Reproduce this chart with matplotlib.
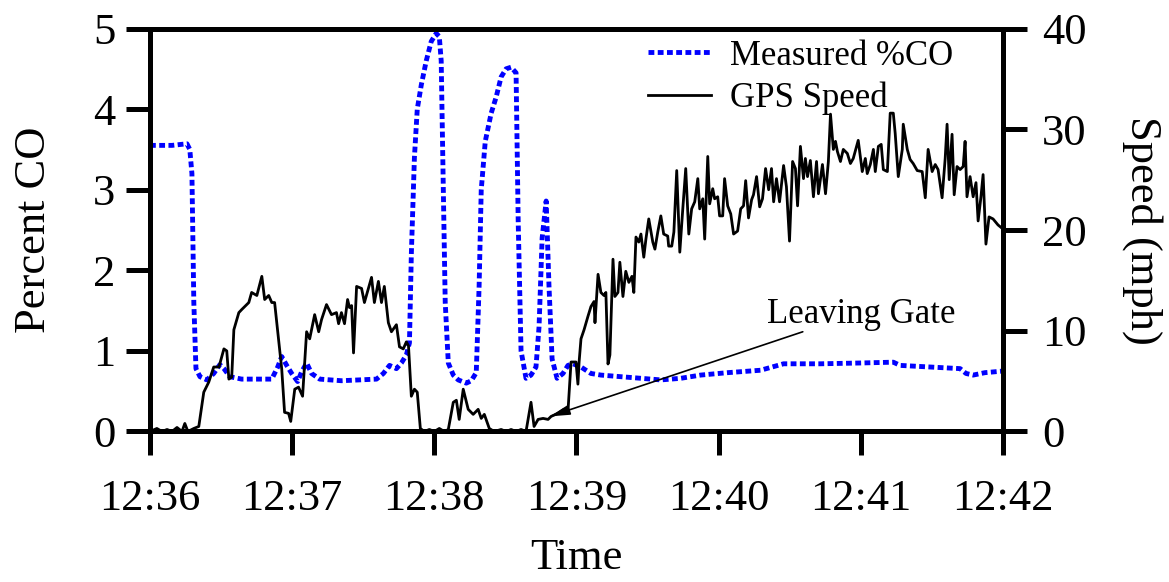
import matplotlib
matplotlib.use("Agg")
import matplotlib.pyplot as plt
from matplotlib.lines import Line2D

plt.rcParams['font.family'] = ['Liberation Serif', 'DejaVu Serif']

# seconds after 12:36:00
co_time = [0.0, 9.3, 15.6, 16.8, 17.7, 18.5, 19.4, 21.1, 24.0, 26.9, 29.5, 31.2, 33.7, 38.7,
           51.4, 53.9, 55.6, 57.7, 59.8, 62.3, 64.0, 66.1, 68.2, 71.6, 80.8, 95.6, 98.5,
           101.1, 104.0, 106.1, 108.2, 109.5, 110.3, 111.6, 112.8, 114.5, 116.6, 118.7,
           120.8, 122.1, 122.9, 123.8, 124.6, 125.9, 128.0, 130.1, 133.5, 135.6, 137.7,
           138.9, 139.8, 141.5, 144.0, 146.1, 148.2, 150.3, 152.4, 154.5, 155.4, 156.6,
           158.7, 160.8, 162.9, 164.2, 165.5, 167.2, 168.4, 169.7, 171.8, 174.3, 176.4,
           178.5, 181.9, 186.1, 190.3, 198.7, 207.2, 215.6, 224.0, 232.4, 243.8, 257.7,
           267.4, 282.9, 299.8, 313.7, 316.6, 329.3, 341.9, 344.4, 347.4, 352.4, 360.0]
co_pct = [3.55, 3.55, 3.57, 3.5, 3.2, 1.6, 0.78, 0.68, 0.64, 0.72, 0.83, 0.78, 0.68, 0.65,
          0.65, 0.8, 0.93, 0.82, 0.72, 0.62, 0.74, 0.85, 0.72, 0.65, 0.63, 0.65, 0.72,
          0.82, 0.78, 0.85, 0.95, 1.1, 2.2, 3.4, 4.0, 4.3, 4.6, 4.84,
          4.94, 4.9, 4.6, 3.0, 1.6, 0.85, 0.7, 0.64, 0.6, 0.63, 0.73,
          1.8, 3.0, 3.6, 3.95, 4.15, 4.4, 4.5, 4.52, 4.45, 2.6, 1.0,
          0.66, 0.7, 0.8, 1.3, 2.4, 2.86, 1.8, 0.9, 0.66, 0.72, 0.82,
          0.84, 0.8, 0.72, 0.7, 0.68, 0.66, 0.64, 0.66, 0.7, 0.73, 0.76,
          0.84, 0.84, 0.85, 0.86, 0.82, 0.8, 0.78, 0.72, 0.7, 0.73, 0.75]

gps_time = [0.0, 2.9, 5.1, 7.2, 9.3, 11.4, 13.5, 14.7, 16.0, 18.5, 20.6, 22.7, 24.8, 26.9,
            29.1, 31.2, 32.4, 33.3, 34.5, 35.4, 37.5, 38.7, 41.7, 42.9, 45.1, 47.2, 48.4,
            50.1, 51.4, 52.6, 55.6, 56.8, 58.5, 59.4, 61.1, 62.7, 64.4, 66.1, 67.4, 69.5,
            71.2, 72.4, 74.5, 76.6, 78.7, 79.6, 80.8, 82.1, 83.4, 84.2, 85.1, 85.9, 87.2,
            89.3, 90.5, 93.5, 94.7, 96.4, 97.7, 98.9, 100.6, 101.9, 104.0, 105.3, 106.9,
            108.2, 109.1, 110.3, 111.6, 112.8, 114.1, 115.8, 117.9, 120.0, 122.1, 124.2,
            125.9, 128.0, 129.3, 130.5, 132.2, 134.3, 136.4, 138.5, 139.8, 141.1, 143.2,
            145.3, 148.2, 150.3, 152.4, 154.5, 156.6, 158.7, 160.8, 162.1, 163.8, 165.9,
            168.0, 169.3, 172.2, 174.7, 176.4, 177.7, 179.8, 180.6, 181.1, 181.9, 183.2,
            184.8, 186.1, 187.4, 187.8, 189.1, 190.3, 191.6, 192.4, 193.3, 194.1, 195.4,
            196.2, 197.5, 198.3, 199.6, 200.8, 202.1, 203.4, 204.2, 205.1, 206.3, 207.2,
            208.4, 209.3, 210.5, 212.2, 213.1, 214.3, 215.6, 216.8, 218.5, 218.9, 220.2,
            221.1, 222.3, 223.6, 224.8, 226.1, 227.4, 228.6, 229.9, 231.2, 232.0, 233.3,
            234.1, 235.4, 236.2, 237.5, 238.3, 239.6, 240.4, 241.7, 242.5, 243.8, 245.1,
            246.3, 248.0, 249.3, 250.5, 251.4, 252.6, 253.9, 254.7, 256.0, 257.3, 258.5,
            259.8, 261.1, 262.3, 263.2, 264.4, 265.7, 267.4, 268.6, 269.9, 271.2, 272.4,
            273.3, 274.5, 275.8, 276.6, 277.5, 278.7, 280.0, 281.3, 282.1, 283.8, 285.1,
            286.3, 287.2, 288.4, 289.3, 290.1, 291.4, 292.6, 294.3, 295.6, 296.8, 298.9,
            300.6, 301.9, 302.7, 304.0, 305.3, 306.1, 307.4, 308.6, 309.5, 311.2, 312.4,
            313.7, 314.5, 315.8, 317.5, 317.9, 319.6, 320.8, 322.1, 323.8, 325.9, 327.2,
            328.4, 330.1, 331.4, 332.6, 334.3, 335.6, 336.4, 337.3, 338.5, 339.4, 340.6,
            341.9, 343.2, 344.0, 344.8, 346.1, 347.4, 348.6, 349.5, 350.7, 351.6, 352.8,
            354.1, 355.8, 357.9, 360.0]
gps_mph = [0, 0.3, 0, 0.2, 0, 0.4, 0, 0.8, 0, 0.3, 0.5, 3.9, 4.9, 6.4,
           6.4, 8.2, 8.0, 5.2, 5.4, 10.1, 11.8, 12.1, 12.8, 13.8, 13.5, 15.4, 13.1,
           13.5, 12.8, 12.8, 6.2, 1.9, 1.8, 1.0, 4.2, 4.4, 3.5, 9.9, 9.2, 11.6,
           9.9, 11.1, 12.6, 11.6, 11.8, 10.7, 11.8, 10.7, 13.1, 12.3, 12.5, 7.8, 14.4,
           14.2, 12.8, 15.3, 12.8, 14.9, 12.8, 14.4, 10.8, 9.9, 10.6, 8.4, 8.2,
           8.9, 8.5, 3.5, 4.2, 3.9, 0.3, 0, 0.2, 0, 0.3, 0,
           0.2, 2.9, 3.1, 1.2, 4.2, 2.2, 1.7, 2.2, 1.3, 1.7, 0.3,
           0, 0.2, 0, 0.2, 0, 0.2, 0, 2.9, 0.5, 1.2, 1.3,
           1.2, 1.5, 1.8, 2.2, 2.0, 6.9, 6.9, 4.7, 6.9, 9.2, 10.1,
           11.4, 12.4, 12.9, 10.8, 15.6, 13.8, 13.5, 13.8, 6.7, 7.6, 17.1,
           13.4, 13.8, 16.8, 13.4, 15.9, 14.8, 15.4, 13.8, 19.3, 18.8, 19.6,
           17.3, 19.1, 21.1, 18.8, 18.1, 19.8, 21.4, 19.6, 19.4, 18.4, 18.4,
           19.8, 25.9, 17.8, 21.9, 26.1, 19.6, 22.1, 22.8, 25.1, 22.1, 23.1,
           19.1, 27.3, 22.6, 24.1, 23.1, 23.3, 21.4, 21.4, 25.1, 22.4, 21.6,
           19.6, 19.9, 22.1, 22.4, 24.9, 21.2, 23.0, 23.5, 25.3, 22.3, 23.1,
           26.1, 24.0, 26.1, 22.8, 25.1, 22.8, 26.4, 24.3, 18.9, 26.8, 26.1,
           22.4, 28.3, 25.1, 27.1, 25.3, 26.9, 23.3, 26.8, 23.6, 26.5, 23.6,
           26.8, 31.5, 28.0, 28.8, 27.8, 26.8, 28.0, 27.6, 26.6, 27.1, 28.9,
           25.8, 27.1, 25.6, 26.5, 28.0, 25.8, 28.3, 28.5, 26.0, 25.8, 31.6,
           31.6, 29.6, 25.3, 28.0, 30.5, 28.0, 27.0, 26.6, 25.9, 25.8, 23.2,
           28.0, 25.8, 26.5, 26.0, 23.2, 27.1, 30.5, 25.0, 29.5, 23.5, 26.3,
           26.0, 26.3, 28.8, 23.3, 25.3, 23.3, 24.7, 20.9, 23.3, 25.5, 18.6,
           21.3, 21.1, 20.5, 20.1]

tick_secs = [0, 60, 120, 180, 240, 300, 360]
tick_labels = ["12:36", "12:37", "12:38", "12:39", "12:40", "12:41", "12:42"]

fig = plt.figure(figsize=(11.69, 5.82), dpi=100)
ax = fig.add_axes([0.1283, 0.2586, 0.7297, 0.6924])
ax2 = ax.twinx()

ax.plot(co_time, co_pct, color='#0000ff', lw=3.5, linestyle=(0, (1.2, 0.7)),
        dash_capstyle='butt', solid_joinstyle='round')
ax2.plot(gps_time, gps_mph, color='black', lw=2.0)

ax.set_xlim(0, 360)
ax.set_ylim(0, 5)
ax2.set_ylim(0, 40)
ax.set_xticks(tick_secs)
ax.set_xticklabels(tick_labels)
ax.set_yticks([0, 1, 2, 3, 4, 5])
ax2.set_yticks([0, 10, 20, 30, 40])

for a in (ax, ax2):
    for sp in a.spines.values():
        sp.set_linewidth(3.6)
    a.tick_params(direction='out', length=17, width=3.6, labelsize=32, pad=8)
ax.tick_params(axis='x', pad=17)
ax2.tick_params(axis='y', pad=11)

ax.set_xlabel("Time", fontsize=32, labelpad=14)
ax.set_ylabel("Percent CO", fontsize=32, labelpad=28)
ax2.set_ylabel("Speed (mph)", fontsize=32, rotation=270, labelpad=55)

ax2.annotate('', xy=(168.8, 1.5), xytext=(275.5, 9.9),
             arrowprops=dict(arrowstyle='-|>,head_length=0.6,head_width=0.15',
                             lw=1.2, color='black', mutation_scale=20,
                             shrinkA=0, shrinkB=0))
ax2.text(260.4, 10.8, "Leaving Gate", fontsize=25, va='baseline', ha='left')

handles = [Line2D([], [], color='#0000ff', lw=3.5, linestyle=(0, (1.2, 0.7)),
                  dash_capstyle='butt'),
           Line2D([], [], color='black', lw=2.0)]
ax2.legend(handles, ["Measured %CO", "GPS Speed"], loc='upper right',
           bbox_to_anchor=(0.978, 1.05), frameon=False, fontsize=25,
           handlelength=1.8, handletextpad=0.55, labelspacing=0.25)

fig.savefig("out.png", dpi=100)
